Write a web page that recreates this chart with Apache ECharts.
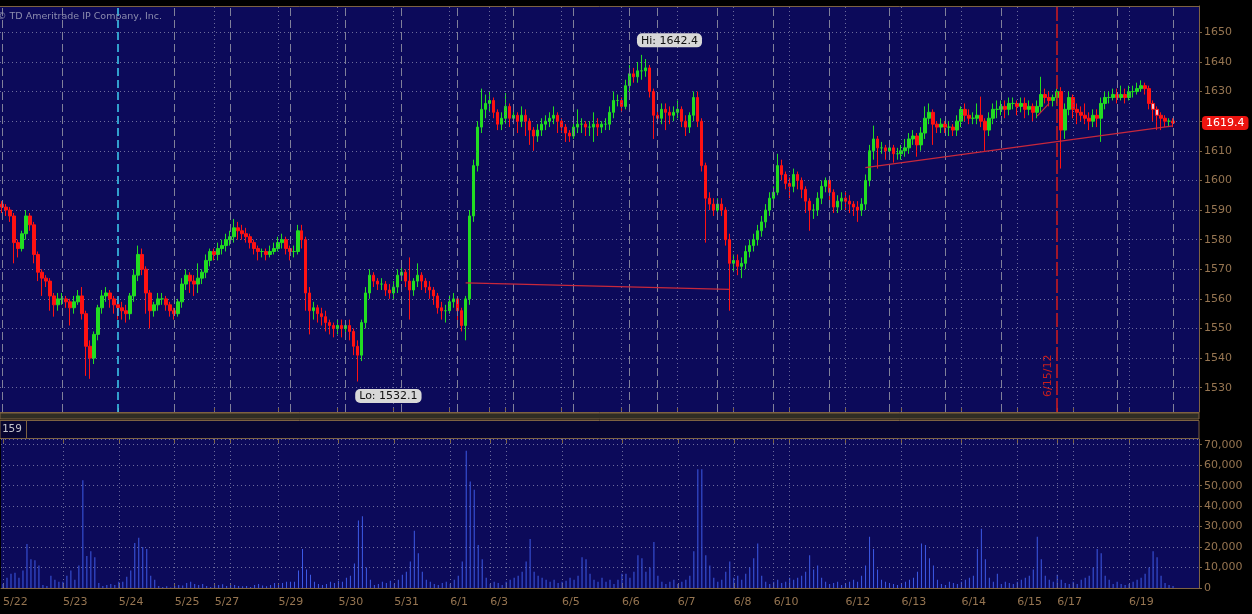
<!DOCTYPE html>
<html><head><meta charset="utf-8">
<script src="https://cdn.jsdelivr.net/npm/echarts@6/dist/echarts.min.js"></script>
<style>html,body{margin:0;padding:0;background:#000;}#c{width:1252px;height:614px;}</style>
</head><body><div id="c"></div>
<script>
// ---- data (hourly-ish bars, one per slot) ----
const opens = [
1592,1591,1590,1588,1579,1577,1582,1588,1585,1575,
1569,1567,1566,1561,1558,1560,1560,1559,1557,1559,
1561,1555,1544,1540,1548,1557,1561,1562,1560,1558,
1557,1556,1555,1561,1568,1575,1570,1562,1556,1558,
1560,1560,1558,1556,1555,1559,1565,1568,1566,1565,
1567,1569,1573,1576,1575,1577,1578,1580,1581,1584,
1583,1582,1581,1579,1577,1576,1576,1575,1576,1577,
1579,1580,1577,1576,1576,1583,1580,1562,1556,1557,
1555,1554,1552,1551,1550,1551,1550,1551,1549,1544,
1541,1552,1562,1568,1566,1565,1565,1563,1562,1564,
1568,1569,1566,1563,1566,1568,1566,1564,1563,1561,
1557,1556,1556,1559,1560,1556,1551,1560,1588,1605,
1618,1624,1626,1627,1623,1619,1621,1625,1621,1622,
1620,1622,1620,1617,1615,1617,1619,1620,1621,1622,
1620,1618,1616,1615,1618,1619,1619,1618,1618,1619,
1618,1619,1619,1623,1627,1627,1625,1632,1636,1635,
1637,1637,1638,1630,1622,1621,1624,1623,1622,1623,
1624,1620,1618,1622,1628,1620,1605,1594,1592,1590,
1592,1590,1580,1572,1573,1571,1572,1576,1578,1580,
1583,1586,1590,1594,1596,1605,1602,1599,1598,1602,
1600,1597,1593,1590,1590,1594,1598,1600,1596,1591,
1593,1594,1593,1592,1591,1590,1592,1600,1610,1614,
1611,1611,1610,1611,1609,1609,1610,1611,1614,1615,
1612,1616,1621,1623,1619,1618,1619,1618,1618,1617,
1620,1624,1622,1621,1621,1622,1620,1617,1621,1624,
1624,1625,1624,1626,1626,1625,1626,1624,1625,1623,
1625,1629,1628,1627,1628,1630,1617,1624,1628,1624,
1623,1622,1621,1620,1622,1621,1626,1628,1628,1629,
1628,1629,1628,1630,1630,1631,1632,1631,1626,1624,
1622,1621,1620,1620];
const highs = [
1593,1592,1591,1589,1580,1583,1590,1589,1586,1576,
1570,1568,1567,1562,1562,1562,1561,1560,1561,1563,
1564,1556,1546,1549,1558,1563,1564,1563,1561,1559,
1559,1558,1562,1570,1578,1577,1571,1563,1559,1562,
1562,1561,1559,1557,1560,1567,1570,1569,1568,1572,
1570,1575,1577,1577,1579,1580,1582,1583,1587,1586,
1585,1584,1582,1580,1578,1577,1577,1578,1579,1581,
1582,1581,1578,1578,1585,1585,1581,1564,1559,1558,
1557,1556,1553,1552,1553,1553,1552,1553,1550,1546,
1553,1564,1570,1569,1567,1567,1566,1565,1566,1570,
1572,1570,1574,1567,1572,1569,1567,1566,1564,1562,
1559,1558,1561,1562,1561,1557,1561,1590,1607,1620,
1631,1629,1630,1628,1624,1623,1629.5,1626,1624,1623,
1625,1624,1621,1618,1619,1621,1622,1623,1625,1623,
1621,1619,1617,1621,1624,1621,1620,1620,1623,1621,
1620,1621,1625,1630,1629,1628,1634,1639,1638,1640,
1642.4,1641,1639,1631,1624,1626,1626,1625,1625,1627,
1625,1622,1623,1630,1630,1621,1606,1596,1594,1594,
1594,1591,1582,1575,1575,1574,1578,1580,1582,1585,
1588,1592,1596,1598,1609,1607,1603,1601,1604,1603,
1601,1598,1594,1592,1596,1600,1601,1601,1597,1595,
1596,1596,1595,1593,1593,1594,1602,1612,1618.5,1615,
1613,1612,1613,1612,1611,1612,1614,1616,1617,1616,
1618,1625,1626,1624,1620,1621,1620,1620,1619,1622,
1625,1626,1624,1623,1626,1628.3,1621,1623,1626,1627,
1627,1627,1628,1628,1627,1628,1628,1627,1626,1627,
1635,1631,1630,1629,1631,1631.5,1626,1630,1629,1626,
1625,1626,1623,1624,1624,1628,1630,1630,1631,1631,
1632,1631,1632,1632,1633,1633.8,1633,1632,1627,1625,
1623,1622,1621,1621];
const lows = [
1589,1588,1586,1572,1574,1576,1580,1583,1572,1566,
1561,1564,1556,1554,1556,1558,1557,1551,1555,1558,
1553,1534,1533,1538,1546,1555,1559,1557,1555,1553,
1553,1552,1553,1559,1566,1568,1555,1550,1554,1556,
1558,1556,1554,1553,1554,1557,1563,1562,1561,1562,
1565,1567,1571,1573,1573,1575,1576,1578,1579,1580,
1580,1579,1577,1575,1573,1574,1573,1574,1575,1576,
1577,1575,1573,1574,1575,1577,1556,1548,1553,1552,
1551,1549,1548,1547,1548,1547,1548,1546,1541,1532.1,
1539,1550,1560,1564,1563,1563,1561,1560,1560,1562,
1566,1564,1553,1561,1564,1563,1562,1560,1558,1555,
1553,1552,1555,1557,1552,1549,1546,1558,1586,1603,
1616,1621,1623,1621,1617,1617,1619,1618,1619,1616,
1618,1615,1612,1610,1613,1615,1617,1618,1619,1616,
1616,1613,1613,1614,1616,1616,1615,1615,1613,1615,
1616,1617,1617,1621,1625,1623,1624,1630,1633,1633,
1634,1635,1628,1614,1619,1619,1617,1619,1620,1621,
1618,1615,1616,1620,1618,1603,1579,1590,1588,1589,
1588,1578,1556,1569,1568,1567,1570,1574,1576,1578,
1581,1584,1588,1592,1595,1600,1597,1594,1596,1597,
1594,1589,1583,1587,1588,1592,1596,1593,1589,1589,
1590,1590,1589,1588,1586,1588,1590,1598,1607,1604,
1609,1607,1608,1606,1607,1607,1608,1609,1612,1608,
1610,1614,1619,1612,1616,1616,1616,1615,1615,1615,
1618,1620,1619,1619,1619,1618,1610,1615,1619,1621,
1622,1621,1622,1624,1622,1623,1621,1622,1620,1621,
1623,1626,1625,1625,1626,1604,1614,1622,1621,1619,
1620,1619,1617,1618,1618,1613,1624,1626,1627,1626,
1627,1626,1627,1628,1629,1630,1629,1624,1620,1617,
1617,1618,1618,1618];
const closes = [
1591,1590,1588,1579,1577,1582,1588,1585,1575,1569,
1567,1566,1561,1558,1560,1560,1559,1557,1559,1561,
1555,1544,1540,1548,1557,1561,1562,1560,1558,1557,
1556,1555,1561,1568,1575,1570,1562,1556,1558,1560,
1560,1558,1556,1555,1559,1565,1568,1566,1565,1567,
1569,1573,1576,1575,1577,1578,1580,1581,1584,1583,
1582,1581,1579,1577,1576,1576,1575,1576,1577,1579,
1580,1577,1576,1576,1583,1580,1562,1556,1557,1555,
1554,1552,1551,1550,1551,1550,1551,1549,1544,1541,
1552,1562,1568,1566,1565,1565,1563,1562,1564,1568,
1569,1566,1563,1566,1568,1566,1564,1563,1561,1557,
1556,1556,1559,1560,1556,1551,1560,1588,1605,1618,
1624,1626,1627,1623,1619,1621,1625,1621,1622,1620,
1622,1620,1617,1615,1617,1619,1620,1621,1622,1620,
1618,1616,1615,1618,1619,1619,1618,1618,1619,1618,
1619,1619,1623,1627,1627,1625,1632,1636,1635,1637,
1637,1638,1630,1622,1621,1624,1623,1622,1623,1624,
1620,1618,1622,1628,1620,1605,1594,1592,1590,1592,
1590,1580,1572,1573,1571,1572,1576,1578,1580,1583,
1586,1590,1594,1596,1605,1602,1599,1598,1602,1600,
1597,1593,1590,1590,1594,1598,1600,1596,1591,1593,
1594,1593,1592,1591,1590,1592,1600,1610,1614,1611,
1611,1610,1611,1609,1609,1610,1611,1614,1615,1612,
1616,1621,1623,1619,1618,1619,1618,1618,1617,1620,
1624,1622,1621,1621,1622,1620,1617,1621,1624,1624,
1625,1624,1626,1626,1625,1626,1624,1625,1623,1625,
1629,1628,1627,1628,1630,1617,1624,1628,1624,1623,
1622,1621,1620,1622,1621,1626,1628,1628,1629,1628,
1629,1628,1630,1630,1631,1632,1631,1626,1624,1622,
1621,1620,1620,1619.4];
const volumes = [
2000,5000,7000,7500,5000,8500,21500,14000,13500,11000,
1500,1000,6000,4000,3000,3000,6000,8500,4000,11000,
52700,15600,18000,15000,2500,1000,1500,2000,1500,3000,
3000,5500,8500,22000,24600,20000,19000,6000,4000,1000,
500,800,300,1000,1500,1200,2500,3000,2000,1500,
2000,1000,500,1200,1500,1800,1000,1500,1500,1000,
800,1000,500,1500,2000,1200,800,1500,2500,1500,
2500,3000,3000,3000,8500,19000,9000,6500,3000,2000,
1500,2000,3000,2500,3500,3000,5000,6000,12000,33000,
35000,10000,4000,1500,2000,3000,2500,3500,2000,4000,
6500,8000,13000,28000,17000,8000,4000,3000,2000,1500,
2500,3000,2000,4000,6000,13000,67000,52000,48000,21000,
14000,5000,2000,3000,2500,1500,3000,4000,5000,6000,
8000,13000,24000,8000,6000,5000,4000,3000,4000,2500,
3000,3500,5000,4000,6000,15000,14000,7000,4000,3000,
5000,3000,4000,2000,4000,7000,7000,5000,8000,16000,
14500,8000,10000,22500,6000,3000,2000,3000,4000,2000,
3000,4000,6000,18000,58000,58000,16000,11000,5000,3000,
4000,8000,13000,5000,6000,4000,7000,10000,14500,21700,
6000,3000,2000,3000,4000,2500,3000,5000,4000,5000,
6000,8000,16000,9000,11000,5000,3000,2000,2500,3000,
1500,2000,3000,4000,3000,6000,11000,25000,19000,9000,
4000,3000,2500,2000,1500,2000,3000,4000,5000,8000,
21700,21000,14500,11000,4000,2000,1500,3000,2500,2000,
3000,4000,5000,6000,19000,29000,14000,5000,3000,7000,
2000,3000,2500,2000,3000,4000,5000,6000,9000,25000,
14000,6000,4000,3000,6500,4000,2500,2000,3000,2000,
4000,5000,6000,10000,19000,17000,6000,4000,2000,3000,
2000,1500,2000,3000,4000,5000,7000,10000,18000,15000,
6000,2500,1500,1000];
// date tick labels (slot index where each session date starts)
const dateTickIdx    = [0,15,29,43,53,69,84,98,112,122,140,155,169,183,193,211,225,240,254,264,282];
const dateTickLabels = ['5/22','5/23','5/24','5/25','5/27','5/29','5/30','5/31','6/1','6/3','6/5','6/6','6/7','6/8','6/10','6/12','6/13','6/14','6/15','6/17','6/19'];
const minorTickIdx   = [57,126,197,268];
const sessionLineIdx = [0,15,43,57,72,86,100,114,128,143,157,164,179,193,207,222,236,250,279,293];
const cyanLineIdx = 29;
const eventLineIdx = 264, eventLineLabel = '6/15/12';
const trendLines = [
  [[116,1565.4],[182,1563.2]],
  [[216,1604.3],[293,1618.4]],
  [[259,1621.7],[262,1626.0]]
];
const paleIdx = [288, 289];
const N_SLOTS = 300;

// ---- styling ----
const NAVY = '#0c0a5a', BROWN = '#7e6342', LABEL = '#967551';
const DOT = '#6c6c9c', DASH = '#80809a';
const UP = '#22dc22', DOWN = '#ff1212';
const FONT = 'DejaVu Sans';

const cats = Array.from({length: N_SLOTS}, (_, i) => String(i));
const tickSet = new Set([...dateTickIdx, ...minorTickIdx]);
const labelAt = {}; dateTickIdx.forEach((idx, k) => { labelAt[idx] = dateTickLabels[k]; });

const candleData = closes.map((c, i) => {
  const item = {value: [opens[i], c, lows[i], highs[i]]};
  if (paleIdx.includes(i)) item.itemStyle = {color: '#f4cad4', color0: '#f4cad4'};
  return item;
});
let hiIdx = 0, loIdx = 0;
highs.forEach((h, i) => { if (h > highs[hiIdx]) hiIdx = i; });
lows.forEach((l, i) => { if (l < lows[loIdx]) loIdx = i; });
const last = closes.length - 1;

const dotted = {color: DOT, type: [1, 3], width: 1};
const dashed = {color: DASH, type: [8, 4], width: 1};
const priceGridLines = [];
[...tickSet].forEach(i => { if (!sessionLineIdx.includes(i) && i !== cyanLineIdx && i !== eventLineIdx) priceGridLines.push({xAxis: String(i), lineStyle: dotted}); });
sessionLineIdx.forEach(i => priceGridLines.push({xAxis: String(i), lineStyle: dashed}));
priceGridLines.push({xAxis: String(cyanLineIdx), lineStyle: {color: '#3fd0f2', type: [8, 4], width: 1.5}});
const volGridLines = [...tickSet].map(i => ({xAxis: String(i), lineStyle: dotted}));

const tickCfg = {show: true, inside: true, length: 4, alignWithLabel: true, interval: (i) => tickSet.has(i), lineStyle: {color: BROWN}};

const option = {
  backgroundColor: '#000',
  animation: false,
  grid: [
    {left: 0, top: 6, width: 1199, height: 406, show: true, backgroundColor: NAVY, borderWidth: 0},
    {left: 0, top: 439, width: 1199, height: 149, show: true, backgroundColor: NAVY, borderWidth: 0}
  ],
  xAxis: [
    {type: 'category', gridIndex: 0, data: cats, boundaryGap: true,
     axisLine: {show: true, lineStyle: {color: BROWN}}, axisTick: tickCfg,
     axisLabel: {show: false}, splitLine: {show: false}},
    {type: 'category', gridIndex: 1, data: cats, boundaryGap: true,
     axisLine: {show: true, lineStyle: {color: BROWN}}, axisTick: tickCfg,
     axisLabel: {show: true, interval: (i) => labelAt[i] !== undefined, formatter: (v, i) => labelAt[i] || '',
                 align: 'left', margin: 9, color: LABEL, fontFamily: FONT, fontSize: 11},
     splitLine: {show: false}},
    {type: 'category', gridIndex: 1, position: 'top', data: cats, boundaryGap: true,
     axisLine: {show: false}, axisTick: tickCfg, axisLabel: {show: false}, splitLine: {show: false}}
  ],
  yAxis: [
    {type: 'value', gridIndex: 0, position: 'right', min: 1521.8, max: 1658.9, minInterval: 10, maxInterval: 10,
     axisLine: {show: true, lineStyle: {color: BROWN}}, axisTick: {show: true, length: 3, lineStyle: {color: BROWN}},
     axisLabel: {color: LABEL, fontFamily: FONT, fontSize: 11, margin: 5, showMinLabel: false, showMaxLabel: false,
                 formatter: v => String(v)},
     splitLine: {show: true, lineStyle: dotted}},
    {type: 'value', gridIndex: 1, position: 'right', min: 0, max: 72800, minInterval: 10000, maxInterval: 10000,
     axisLine: {show: true, lineStyle: {color: BROWN}}, axisTick: {show: true, length: 3, lineStyle: {color: BROWN}},
     axisLabel: {color: LABEL, fontFamily: FONT, fontSize: 11, margin: 5, showMaxLabel: false,
                 formatter: v => Number(v).toLocaleString('en-US')},
     splitLine: {show: true, lineStyle: dotted}}
  ],
  series: [
    {type: 'line', xAxisIndex: 0, yAxisIndex: 0, data: [], z: 1, silent: true,
     markLine: {silent: true, symbol: ['none', 'none'], label: {show: false}, animation: false, data: priceGridLines}},
    {type: 'line', xAxisIndex: 1, yAxisIndex: 1, data: [], z: 1, silent: true,
     markLine: {silent: true, symbol: ['none', 'none'], label: {show: false}, animation: false, data: volGridLines}},
    {type: 'candlestick', xAxisIndex: 0, yAxisIndex: 0, z: 3, barWidth: 3, data: candleData,
     itemStyle: {color: UP, color0: DOWN, borderColor: UP, borderColor0: DOWN, borderWidth: 1},
     markLine: {silent: true, symbol: ['none', 'none'], animation: false, label: {show: false},
       data: [
         ...trendLines.map(t => [{coord: [String(t[0][0]), t[0][1]]}, {coord: [String(t[1][0]), t[1][1]]}]).map(p => { p[0].lineStyle = {color: '#c8283c', width: 1.2, type: 'solid'}; return p; }),
         {xAxis: String(eventLineIdx), lineStyle: {color: '#d41c1c', width: 1.5, type: [14, 3]},
          label: {show: true, formatter: eventLineLabel, position: 'insideStartTop', color: '#c81e1e', fontFamily: FONT, fontSize: 11, distance: 3, padding: [0, 0, 0, 12]}},
         {yAxis: closes[last], lineStyle: {width: 0, color: 'rgba(0,0,0,0)'},
          label: {show: true, position: 'end', distance: 3, formatter: String(closes[last]), color: '#fff', backgroundColor: '#ec1410',
                  borderRadius: 4, padding: [2, 4, 1, 4], fontFamily: FONT, fontSize: 11}}
       ]},
     markPoint: {symbol: 'circle', symbolSize: 1, itemStyle: {color: 'rgba(0,0,0,0)'}, animation: false,
       label: {show: true, formatter: p => p.name + ': ' + p.value, backgroundColor: '#d8d8d8', color: '#111',
               borderRadius: 5, padding: [2, 4, 1, 4], fontFamily: FONT, fontSize: 11},
       data: [
         {name: 'Hi', coord: [String(hiIdx), highs[hiIdx]], value: highs[hiIdx], label: {position: [-4, -21]}},
         {name: 'Lo', coord: [String(loIdx), lows[loIdx]], value: lows[loIdx], label: {position: [-2, 8]}}
       ]}},
    {type: 'bar', xAxisIndex: 1, yAxisIndex: 1, z: 3, barWidth: 1, data: volumes, itemStyle: {color: '#3d5ae6'}}
  ],
  graphic: [
    {type: 'line', z: 50, shape: {x1: 0, y1: 6.5, x2: 1199, y2: 6.5}, style: {stroke: BROWN, lineWidth: 1}},
    {type: 'rect', z: 50, shape: {x: 0, y: 413, width: 1199, height: 6}, style: {fill: '#2f2d24', stroke: BROWN, lineWidth: 1}},
    {type: 'rect', z: 50, shape: {x: 0, y: 420.5, width: 1199, height: 18}, style: {fill: '#070530', stroke: BROWN, lineWidth: 1}},
    {type: 'line', z: 51, shape: {x1: 26.5, y1: 420.5, x2: 26.5, y2: 438.5}, style: {stroke: BROWN, lineWidth: 1}},
    {type: 'text', z: 51, style: {text: '159', x: 2, y: 429.5, font: '11px "DejaVu Sans Mono"', fill: '#c4c4cc', verticalAlign: 'middle', textVerticalAlign: 'middle'}},
    {type: 'text', z: 51, style: {text: '\u00a9 TD Ameritrade IP Company, Inc.', x: -3, y: 17, font: '9.5px "DejaVu Sans"', fill: '#8c8cae', verticalAlign: 'middle', textVerticalAlign: 'middle'}}
  ]
};
const chart = echarts.init(document.getElementById('c'));
chart.setOption(option);
</script></body></html>
